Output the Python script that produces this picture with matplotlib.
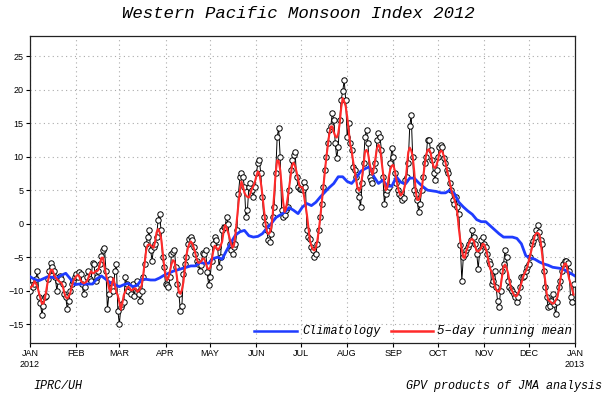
import numpy as np
import pandas as pd
import matplotlib
matplotlib.use("Agg")
import matplotlib.pyplot as plt

# Daily Western Pacific Monsoon Index, 2012
jan = [-10.0, -9.2, -9.5, -9.0, -8.2, -7.0, -11.0, -11.8, -13.6, -12.3,
       -11.0, -10.8, -8.2, -7.0, -5.8, -6.5, -7.0, -8.0, -10.0, -8.5,
       -7.8, -8.2, -9.0, -10.5, -11.0, -12.7, -11.6, -10.0, -9.0, -8.5,
       -8.0]
feb = [-7.5, -8.0, -7.2, -7.5, -9.0, -10.5, -9.5, -8.0, -7.0, -8.2,
       -8.5, -5.8, -6.0, -8.5, -8.0, -7.0, -6.0, -4.8, -4.0, -3.6,
       -7.0, -12.8, -10.5, -8.2, -9.5, -10.0, -7.0, -6.0, -13.0]
mar = [-15.0, -12.5, -12.0, -11.7, -8.0, -9.0, -10.0, -9.5, -10.5, -9.0,
       -10.8, -9.5, -8.5, -10.5, -11.5, -10.0, -8.0, -6.0, -3.0, -2.0,
       -1.0, -4.0, -5.5, -3.5, -3.0, -2.0, 0.5, 1.5, -1.0, -5.0,
       -6.5]
apr = [-9.0, -9.2, -9.5, -8.0, -4.5, -4.2, -4.0, -6.5, -9.0, -10.5,
       -13.0, -12.3, -7.5, -6.0, -5.0, -3.0, -2.3, -2.0, -2.5, -3.5,
       -4.5, -5.5, -6.0, -7.0, -6.2, -4.3, -4.5, -4.0, -7.2, -9.2]
may = [-8.0, -5.5, -3.0, -2.0, -2.5, -3.5, -6.5, -5.0, -1.0, -0.5,
       -0.5, 1.0, 0.0, -3.0, -4.0, -4.5, -3.5, -3.0, -1.0, 4.5,
       7.0, 7.5, 7.0, 5.5, 1.0, 2.0, 5.5, 6.0, 5.0, 4.0,
       5.5]
jun = [7.5, 9.0, 9.5, 7.5, 4.0, 1.0, 0.0, -1.0, -2.5, -2.75,
       -1.5, 1.0, 2.5, 7.5, 13.0, 14.25, 10.0, 2.0, 1.0, 1.25,
       2.0, 2.5, 5.0, 8.0, 9.5, 10.25, 10.75, 7.0, 5.5, 5.2]
jul = [5.2, 5.0, 6.25, 5.5, -1.0, -2.0, -2.25, -3.5, -4.0, -5.0,
       -4.5, -3.0, -1.0, 1.0, 3.0, 5.5, 8.0, 10.0, 12.0, 14.0,
       14.5, 16.5, 15.5, 12.0, 9.75, 11.5, 15.5, 18.5, 19.75, 21.4,
       18.5]
aug = [13.0, 15.0, 12.0, 11.0, 8.5, 8.0, 7.0, 5.0, 4.0, 2.5,
       6.0, 9.0, 13.0, 14.0, 12.0, 7.0, 6.5, 6.0, 8.0, 9.0,
       12.5, 13.5, 13.0, 11.0, 7.0, 3.0, 4.5, 5.0, 5.5, 9.0,
       11.25]
sep = [10.0, 7.5, 6.0, 5.0, 4.5, 4.2, 3.5, 3.8, 6.5, 7.0,
       9.0, 14.5, 16.25, 10.0, 5.0, 4.5, 3.5, 1.75, 3.0, 5.0,
       7.0, 9.0, 10.0, 12.5, 12.5, 11.0, 9.5, 7.5, 6.5, 8.0]
oct_ = [10.0, 11.5, 11.75, 11.5, 9.8, 9.0, 8.0, 7.5, 6.0, 5.0,
        3.5, 3.0, 4.0, 2.5, 1.5, -3.25, -8.5, -5.0, -4.5, -4.0,
        -3.5, -3.0, -2.5, -0.9, -2.0, -3.0, -4.5, -6.75, -4.0, -2.5,
        -2.0]
nov = [-3.0, -3.5, -4.5, -5.5, -6.0, -9.0, -8.5, -7.0, -9.5, -11.5,
       -12.5, -10.0, -7.0, -6.0, -4.0, -5.0, -8.5, -9.5, -9.7, -10.0,
       -10.5, -11.0, -11.75, -11.0, -9.5, -8.0, -8.0, -7.8, -7.0, -6.5]
dec = [-6.0, -5.0, -3.0, -2.6, -2.0, -1.0, -0.25, -1.2, -2.5, -3.0,
       -7.0, -9.5, -11.0, -12.5, -12.25, -11.5, -10.5, -12.0, -13.5, -11.75,
       -9.5, -8.5, -7.0, -6.0, -5.5, -5.5, -5.8, -7.0, -11.0, -11.75,
       -9.0]

clim = [-7.9, -8.3, -8.5, -8.2, -7.9, -8.0, -8.1, -7.7, -7.4, -8.2,
        -9.1, -9.0, -9.0, -9.0, -9.0, -8.2, -7.8, -8.3, -8.8, -9.1,
        -9.4, -9.1, -8.9, -9.4, -9.2, -8.3, -8.3, -8.4, -8.4, -8.1,
        -7.7, -7.4, -7.1, -6.9, -6.7, -6.5, -6.3, -6.3, -5.8, -5.9,
        -5.9, -5.2, -5.0, -5.3, -4.0, -2.8, -1.7, -1.2, -1.0, -1.8,
        -2.0, -1.9, -1.5, -0.7, 0.0, 0.9, 1.3, 1.7, 2.4, 2.0,
        1.5, 2.5, 3.0, 2.7, 3.2, 4.0, 4.7, 5.4, 6.0, 7.0,
        7.0, 6.3, 6.0, 6.8, 7.8, 8.2, 8.5, 7.0, 6.0, 6.5,
        5.6, 5.6, 7.0, 6.2, 5.9, 6.8, 6.8, 6.1, 5.5, 5.0,
        4.9, 4.8, 4.6, 4.6, 5.0, 4.5, 3.2, 2.5, 1.9, 1.4,
        0.6, 0.3, 0.3, -0.3, -0.9, -1.5, -2.0, -2.0, -2.0, -2.2,
        -3.0, -4.8, -5.1, -5.3, -5.7, -6.0, -6.2, -6.5, -6.6, -6.7,
        -7.0, -7.4, -7.8]
clim_step = 3

month_starts = [0, 31, 60, 91, 121, 152, 182, 213, 244, 274, 305, 335, 366]
month_labels = ["JAN\n2012", "FEB", "MAR", "APR", "MAY", "JUN", "JUL",
                "AUG", "SEP", "OCT", "NOV", "DEC", "JAN\n2013"]
y_ticks = [-15, -10, -5, 0, 5, 10, 15, 20, 25]

wpmi = jan + feb + mar + apr + may + jun + jul + aug + sep + oct_ + nov + dec
days = np.arange(len(wpmi))
running = pd.Series(wpmi).rolling(5, center=True, min_periods=1).mean()
clim_days = np.arange(len(clim)) * clim_step

W, H = 605, 403
fig = plt.figure(figsize=(W / 100, H / 100), dpi=100)
ax = fig.add_axes([30 / W, 1 - 343 / H, 545 / W, 307 / H])

ax.plot(days, wpmi, color="black", lw=0.7, marker="o", ms=3.9,
        mfc="white", mec="black", mew=0.7, zorder=3)
ax.plot(clim_days, clim, color="#1f3cff", lw=2.0, zorder=4)
ax.plot(days, running, color="#ff2a2a", lw=1.5, zorder=5)

ax.set_xlim(0, 366)
ax.set_ylim(-17.8, 28)
ax.set_xticks(month_starts)
ax.set_xticklabels(month_labels)
ax.set_yticks(y_ticks)
ax.grid(True, color="#aaaaaa", ls=(0, (1, 3)), lw=0.8)
ax.tick_params(direction="out", length=3, width=0.8, labelsize=6.5, pad=1.5)
for lab in ax.get_xticklabels() + ax.get_yticklabels():
    lab.set_family("Liberation Sans")
for s in ax.spines.values():
    s.set_linewidth(0.9)
    s.set_color("#222222")

hfont = dict(family="Liberation Mono", style="italic")
# legend inside axes
ly = 0.04
ax.plot([(254 - 30) / 545, (297 - 30) / 545], [ly, ly], transform=ax.transAxes,
        color="#1f3cff", lw=1.8, clip_on=False)
ax.text((302 - 30) / 545, ly, "Climatology", transform=ax.transAxes,
        va="center", ha="left", fontsize=8.6, **hfont)
ax.plot([(391 - 30) / 545, (433 - 30) / 545], [ly, ly], transform=ax.transAxes,
        color="#ff2a2a", lw=1.8, clip_on=False)
ax.text((437 - 30) / 545, ly, "5\u2013day running mean", transform=ax.transAxes,
        va="center", ha="left", fontsize=9.0, **hfont)

fig.text(298 / W, 1 - 14 / H, "Western Pacific Monsoon Index 2012",
         ha="center", va="center", fontsize=12.5, **hfont)
fig.text(33 / W, 1 - 386 / H, "IPRC/UH", ha="left", va="center",
         fontsize=8.5, **hfont)
fig.text(602 / W, 1 - 386 / H, "GPV products of JMA analysis", ha="right",
         va="center", fontsize=8.5, **hfont)

fig.savefig("out.png", dpi=100)
